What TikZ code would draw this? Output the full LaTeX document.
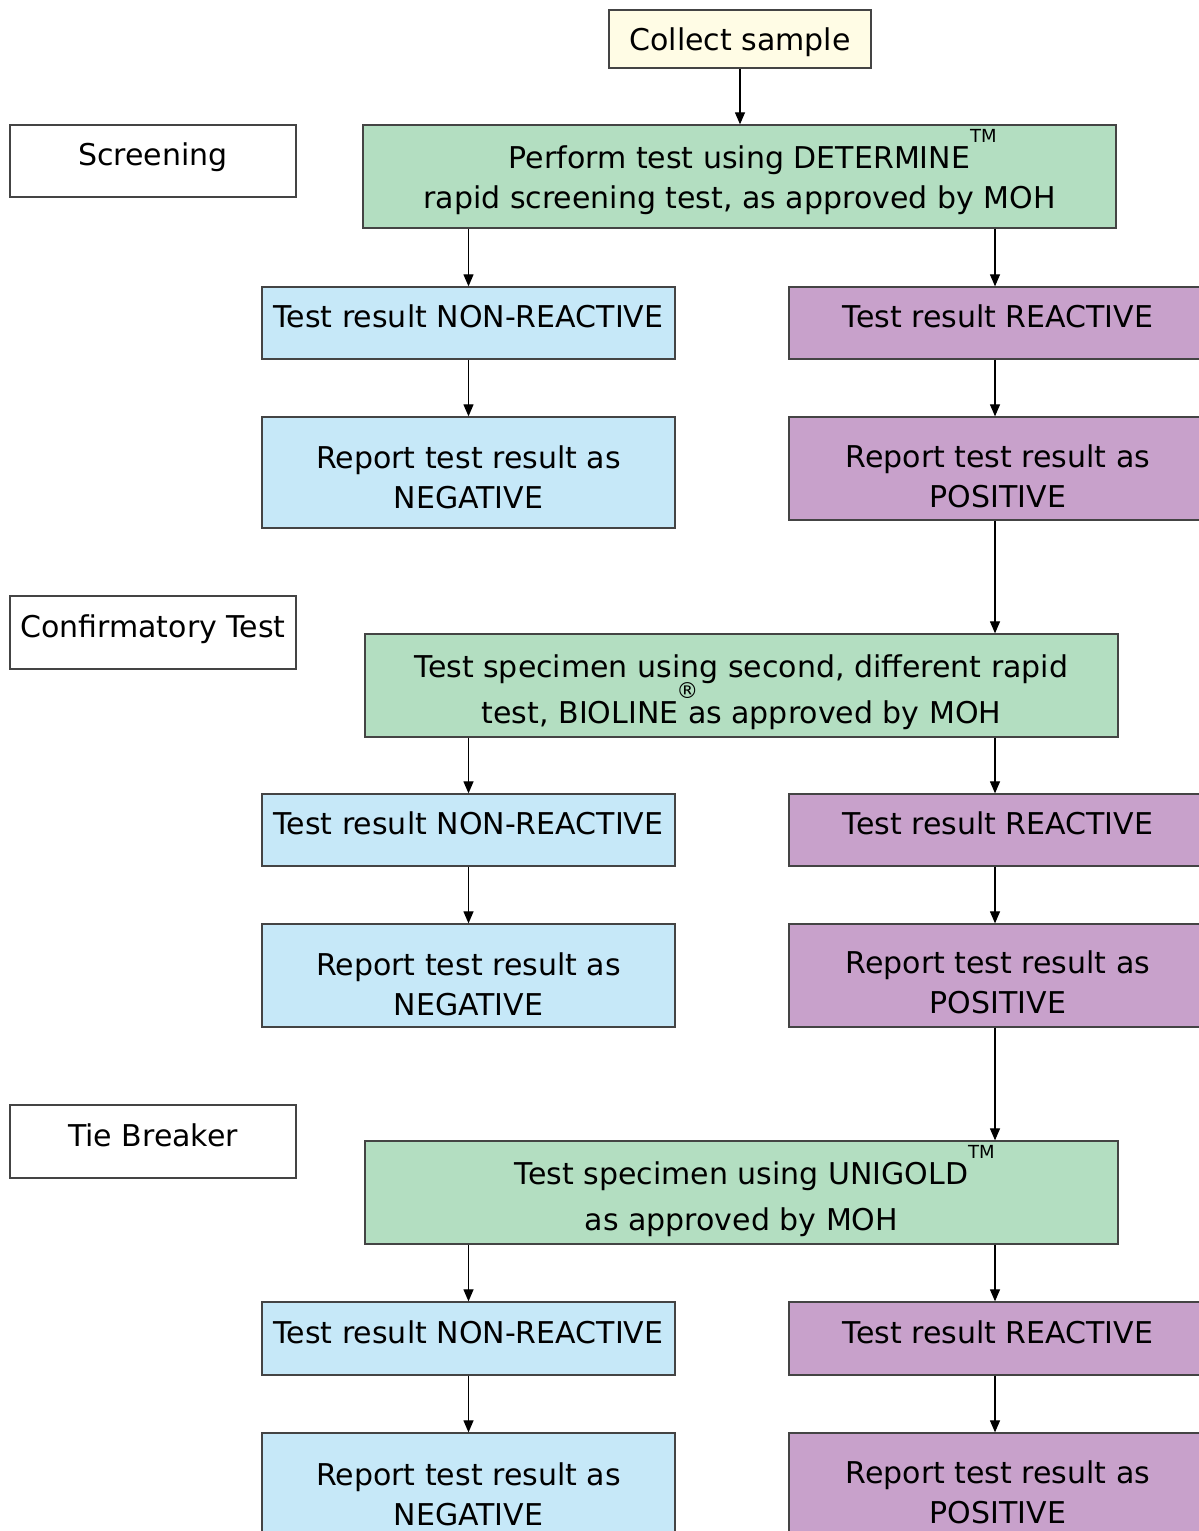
\documentclass[tikz,border=0pt]{standalone}
\usepackage{fontspec}
\setmainfont{DejaVu Sans}
\usetikzlibrary{arrows.meta,calc}
\definecolor{cyel}{RGB}{255,252,229}
\definecolor{cgrn}{RGB}{179,222,193}
\definecolor{cblu}{RGB}{198,232,248}
\definecolor{cpur}{RGB}{200,161,203}
\definecolor{cedge}{RGB}{68,68,68}
\newcommand\bx[7]{\node[#6, minimum width={#4-#2}, minimum height={#5-#3}] (#1) at ({(#2+#4)/2},{-(#3+#5)/2}) {#7};}
% multi-line text: first baseline raised #1 above box centre
\newcommand\tx[3]{\raisebox{#1}[0pt][0pt]{\parbox[t]{#2}{\centering #3}}}
% single line text: baseline raised #1 above box centre
\newcommand\sx[2]{\raisebox{#1}[0pt][0pt]{#2}}
\newcommand\tmark{\rlap{\raisebox{26pt}[0pt][0pt]{\fontsize{18}{18}\selectfont TM}}}
\newcommand\rmark{\rlap{\hspace{-2pt}\raisebox{25pt}[0pt][0pt]{\fontsize{22}{22}\selectfont ®}}}
\tikzset{
  boxbase/.style={draw=cedge, line width=1.3pt, inner sep=0pt,
    font=\fontsize{30}{40}\selectfont},
  lbl/.style={boxbase, fill=white},
  yel/.style={boxbase, fill=cyel},
  grn/.style={boxbase, fill=cgrn},
  blu/.style={boxbase, fill=cblu},
  pur/.style={boxbase, fill=cpur},
  arr/.style={draw=black, line width=1.2pt, -{Triangle[length=12pt,width=10pt]}}
}
\begin{document}
\begin{tikzpicture}[x=1pt,y=1pt]
\useasboundingbox (0,0) rectangle (1199,-1531);
\clip (0,0) rectangle (1199,-1531);
\fill[white] (0,0) rectangle (1199,-1531);

\bx{cs}{609}{10}{871}{68}{yel}{\sx{-11pt}{Collect sample}}

% Screening
\bx{l1}{10}{125}{296}{197}{lbl}{\sx{-4pt}{Screening}}
\bx{g1}{363}{125}{1116}{228}{grn}{\tx{8.5pt}{740pt}{Perform test using DETERMINE\tmark\\rapid screening test, as approved by MOH}}
\bx{nr1}{262}{287}{675}{359}{blu}{\sx{-4pt}{Test result NON-REACTIVE}}
\bx{r1}{789}{287}{1201}{359}{pur}{\sx{-4pt}{\hspace*{6pt}Test result REACTIVE}}
\bx{ng1}{262}{417}{675}{528}{blu}{\tx{4.5pt}{400pt}{Report test result as\\NEGATIVE}}
\bx{p1}{789}{417}{1201}{520}{pur}{\tx{1.5pt}{400pt}{\hspace*{6pt}Report test result as\\\hspace*{6pt}POSITIVE}}

% Confirmatory
\bx{l2}{10}{596}{296}{669}{lbl}{\sx{-4.5pt}{Confirmatory Test}}
\bx{g2}{365}{634}{1118}{737}{grn}{\tx{8.5pt}{740pt}{Test specimen using second, different rapid\\[6pt]test, BIOLINE\rmark\ as approved by MOH}}
\bx{nr2}{262}{794}{675}{866}{blu}{\sx{-4pt}{Test result NON-REACTIVE}}
\bx{r2}{789}{794}{1201}{866}{pur}{\sx{-4pt}{\hspace*{6pt}Test result REACTIVE}}
\bx{ng2}{262}{924}{675}{1027}{blu}{\tx{0.5pt}{400pt}{Report test result as\\NEGATIVE}}
\bx{p2}{789}{924}{1201}{1027}{pur}{\tx{2.5pt}{400pt}{\hspace*{6pt}Report test result as\\\hspace*{6pt}POSITIVE}}

% Tie breaker
\bx{l3}{10}{1105}{296}{1178}{lbl}{\sx{-4.5pt}{Tie Breaker}}
\bx{g3}{365}{1141}{1118}{1244}{grn}{\tx{8.5pt}{740pt}{Test specimen using UNIGOLD\tmark\\[6pt]as approved by MOH}}
\bx{nr3}{262}{1302}{675}{1375}{blu}{\sx{-4.5pt}{Test result NON-REACTIVE}}
\bx{r3}{789}{1302}{1201}{1375}{pur}{\sx{-4.5pt}{\hspace*{6pt}Test result REACTIVE}}
\bx{ng3}{262}{1433}{675}{1548}{blu}{\tx{5.5pt}{400pt}{Report test result as\\NEGATIVE}}
\bx{p3}{789}{1433}{1201}{1548}{pur}{\tx{7.5pt}{400pt}{\hspace*{6pt}Report test result as\\\hspace*{6pt}POSITIVE}}

% connectors
\draw[arr] (cs.south) -- (cs.south |- g1.north);
\draw[arr] (nr1.north |- g1.south) -- (nr1.north);
\draw[arr] (r1.north |- g1.south) -- (r1.north);
\draw[arr] (nr1.south) -- (ng1.north);
\draw[arr] (r1.south) -- (p1.north);
\draw[arr] (p1.south) -- (p1.south |- g2.north);
\draw[arr] (nr2.north |- g2.south) -- (nr2.north);
\draw[arr] (r2.north |- g2.south) -- (r2.north);
\draw[arr] (nr2.south) -- (ng2.north);
\draw[arr] (r2.south) -- (p2.north);
\draw[arr] (p2.south) -- (p2.south |- g3.north);
\draw[arr] (nr3.north |- g3.south) -- (nr3.north);
\draw[arr] (r3.north |- g3.south) -- (r3.north);
\draw[arr] (nr3.south) -- (ng3.north);
\draw[arr] (r3.south) -- (p3.north);
\end{tikzpicture}
\end{document}
